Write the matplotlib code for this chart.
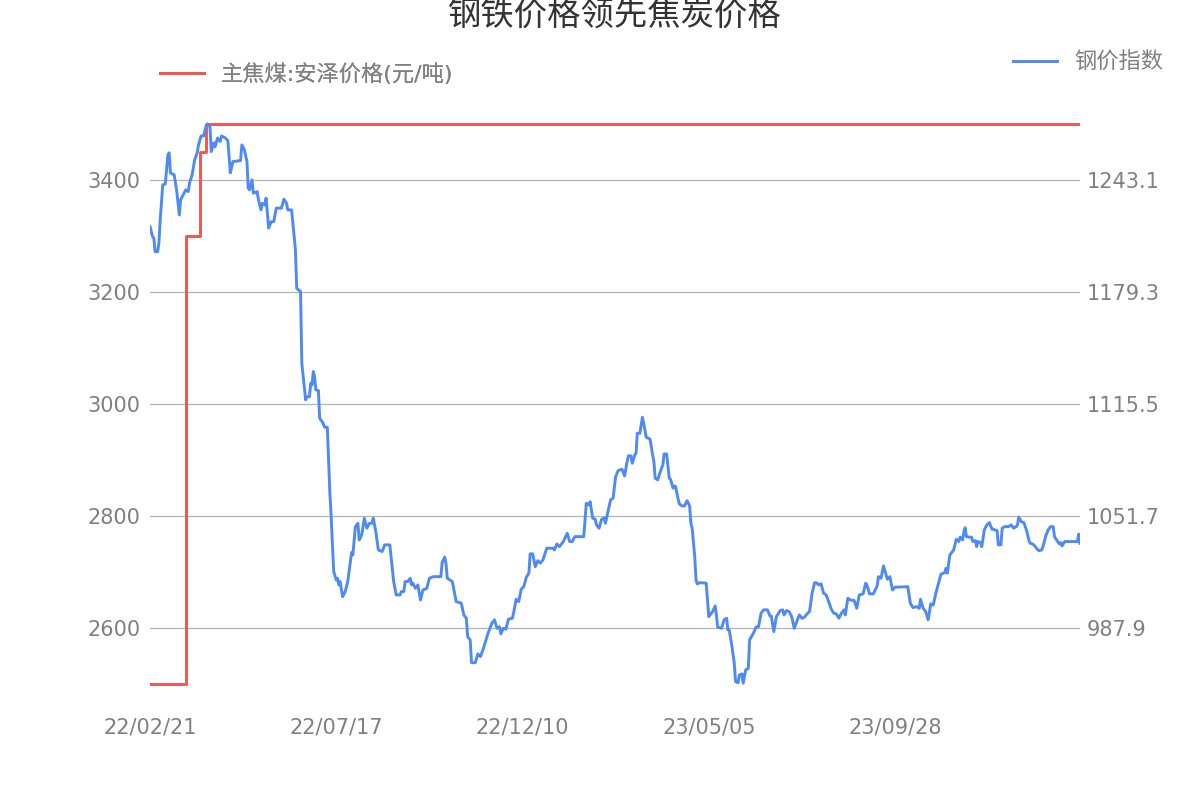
import matplotlib.pyplot as plt

plt.rcParams['font.family'] = ['DejaVu Sans', 'Noto Sans CJK SC']

# days since 2022-02-21
tick_days = [0, 146, 292, 438, 584]
tick_labels = ["22/02/21", "22/07/17", "22/12/10", "23/05/05", "23/09/28"]

# 主焦煤:安泽价格(元/吨), step changes
coke_day = [0, 28, 39, 44, 729]
coke_price = [2500, 3300, 3450, 3500, 3500]

# 钢价指数
steel_day = [
    0, 2, 3, 4, 6, 7, 8, 10, 12, 14, 15, 16, 19, 21, 23, 24, 26, 28, 30, 31,
    33, 35, 37, 38, 40, 42, 44, 45, 47, 48, 50, 51, 53, 55, 56, 59, 61, 62, 63, 65,
    71, 72, 74, 76, 77, 78, 80, 81, 84, 85, 87, 88, 90, 91, 93, 95, 97, 99, 103, 105,
    107, 108, 111, 113, 114, 115, 118, 119, 122, 123, 125, 126, 127, 128, 129, 130, 132, 133, 135, 137,
    139, 141, 142, 144, 146, 147, 148, 149, 151, 153, 155, 158, 159, 161, 163, 164, 166, 168, 170, 172,
    174, 175, 177, 179, 182, 184, 188, 191, 193, 196, 197, 199, 200, 202, 204, 205, 206, 208, 210, 212,
    214, 217, 219, 222, 228, 229, 231, 232, 233, 237, 239, 240, 244, 246, 248, 249, 251, 252, 255, 257,
    259, 261, 263, 265, 268, 270, 272, 274, 275, 277, 279, 281, 284, 285, 287, 289, 291, 293, 295, 297,
    298, 300, 302, 304, 306, 308, 311, 316, 317, 319, 321, 324, 327, 329, 331, 333, 340, 342, 344, 345,
    347, 349, 350, 352, 354, 356, 357, 359, 361, 363, 365, 367, 370, 372, 374, 375, 377, 378, 380, 381,
    382, 384, 385, 386, 387, 389, 392, 394, 395, 396, 398, 400, 402, 403, 405, 406, 407, 408, 410, 411,
    412, 414, 415, 417, 419, 421, 423, 424, 425, 427, 428, 429, 431, 436, 437, 438, 441, 443, 444, 445,
    448, 450, 452, 453, 454, 456, 458, 459, 461, 462, 464, 465, 467, 469, 470, 473, 475, 476, 477, 479,
    481, 484, 486, 487, 489, 491, 494, 496, 497, 499, 501, 503, 505, 507, 509, 511, 513, 515, 517, 519,
    521, 523, 524, 526, 528, 530, 532, 534, 536, 538, 540, 542, 544, 545, 547, 549, 552, 554, 556, 559,
    561, 562, 564, 567, 570, 571, 573, 575, 577, 578, 580, 582, 584, 594, 596, 598, 601, 603, 604, 606,
    608, 610, 612, 614, 616, 618, 620, 623, 624, 625, 627, 629, 630, 632, 634, 635, 637, 638, 639, 640,
    642, 644, 645, 647, 648, 649, 651, 652, 654, 656, 658, 660, 661, 664, 665, 667, 668, 670, 673, 675,
    677, 679, 680, 681, 683, 685, 687, 689, 690, 692, 694, 696, 697, 699, 700, 702, 704, 706, 708, 709,
    711, 713, 714, 715, 717, 727, 728, 729,
]
steel_index = [
    1216.5, 1210.8, 1210.0, 1202.2, 1202.2, 1207.2, 1220.3, 1240.2, 1240.8, 1257.3,
    1258.5, 1247.1, 1245.9, 1236.4, 1223.1, 1231.7, 1234.5, 1237.4, 1236.4, 1241.4,
    1245.9, 1254.5, 1258.5, 1263.0, 1268.1, 1268.1, 1273.8, 1275.0, 1273.4, 1259.2,
    1264.2, 1262.0, 1267.0, 1264.9, 1268.1, 1267.0, 1265.5, 1256.4, 1247.1, 1253.5,
    1254.1, 1263.0, 1260.2, 1253.5, 1238.4, 1237.4, 1243.1, 1235.5, 1236.4, 1231.7,
    1226.0, 1229.8, 1228.8, 1232.7, 1215.6, 1219.3, 1219.3, 1227.0, 1227.0, 1232.1,
    1229.8, 1226.0, 1226.0, 1210.8, 1203.2, 1181.4, 1179.5, 1138.7, 1117.8, 1119.6,
    1119.6, 1127.3, 1126.3, 1133.9, 1131.0, 1123.5, 1123.1, 1107.3, 1105.4, 1102.2,
    1102.2, 1064.6, 1051.3, 1020.0, 1015.2, 1016.2, 1012.4, 1014.3, 1005.7, 1008.6,
    1014.3, 1030.8, 1029.5, 1045.6, 1047.5, 1038.0, 1040.9, 1050.4, 1044.7, 1047.5,
    1047.5, 1050.4, 1042.8, 1032.3, 1031.4, 1035.2, 1035.2, 1014.3, 1006.7, 1006.7,
    1008.6, 1008.6, 1014.3, 1014.3, 1016.2, 1012.4, 1013.4, 1010.5, 1012.4, 1003.8,
    1009.5, 1010.5, 1016.2, 1017.1, 1017.1, 1025.1, 1028.2, 1024.8, 1016.2, 1014.3,
    1006.7, 1002.9, 1002.0, 995.3, 993.4, 982.9, 981.1, 968.1, 968.1, 973.1,
    971.6, 975.4, 980.1, 984.9, 990.6, 992.5, 987.7, 988.6, 984.5, 987.7,
    987.2, 992.9, 993.4, 996.3, 1004.2, 1002.9, 1009.9, 1011.4, 1016.8, 1019.1,
    1030.1, 1030.1, 1022.8, 1026.2, 1024.8, 1026.6, 1033.3, 1033.3, 1032.3, 1035.7,
    1034.2, 1037.1, 1041.8, 1037.1, 1037.1, 1039.9, 1039.9, 1058.9, 1058.0, 1059.8,
    1050.4, 1049.8, 1046.6, 1044.7, 1049.8, 1050.4, 1047.5, 1054.1, 1060.8, 1061.8,
    1074.1, 1077.5, 1078.3, 1074.5, 1082.6, 1085.9, 1085.9, 1081.7, 1086.4, 1087.4,
    1098.8, 1098.8, 1103.5, 1107.9, 1104.5, 1096.5, 1095.4, 1086.4, 1082.6, 1073.2,
    1072.2, 1076.9, 1080.7, 1087.0, 1087.0, 1079.8, 1073.2, 1072.6, 1067.5, 1068.8,
    1068.4, 1061.2, 1058.5, 1057.4, 1057.4, 1060.4, 1057.4, 1047.5, 1044.7, 1028.5,
    1015.2, 1013.0, 1013.7, 1013.4, 1003.8, 994.3, 997.2, 1000.4, 995.3, 988.3,
    987.7, 992.5, 993.4, 986.8, 986.8, 978.2, 967.8, 957.3, 956.7, 961.1,
    961.7, 956.4, 964.0, 964.9, 981.1, 984.9, 988.3, 988.6, 988.6, 996.3,
    998.2, 998.2, 994.7, 994.7, 985.8, 994.3, 997.8, 998.2, 995.3, 997.8,
    997.2, 994.3, 987.7, 991.5, 995.3, 993.4, 994.0, 995.9, 997.2, 1007.7,
    1013.7, 1013.4, 1012.4, 1013.0, 1007.7, 1006.7, 1002.9, 998.6, 996.3, 995.9,
    993.4, 996.3, 998.2, 995.3, 1004.8, 1003.8, 1003.5, 999.1, 1006.7, 1007.3,
    1013.4, 1012.4, 1007.3, 1007.3, 1011.8, 1017.1, 1016.2, 1023.2, 1018.1, 1015.6,
    1017.1, 1009.5, 1011.1, 1011.4, 1002.0, 999.5, 1000.0, 999.1, 1004.2, 999.1,
    997.2, 992.5, 1001.6, 1001.0, 1007.7, 1013.0, 1018.5, 1019.4, 1021.9, 1019.1,
    1029.5, 1031.4, 1032.3, 1038.4, 1037.1, 1039.6, 1038.0, 1042.8, 1045.0, 1039.9,
    1039.6, 1039.6, 1037.1, 1037.6, 1034.2, 1037.1, 1036.5, 1034.2, 1043.7, 1046.6,
    1047.9, 1044.1, 1044.1, 1043.3, 1035.2, 1035.2, 1044.7, 1045.6, 1045.6, 1046.6,
    1044.7, 1045.6, 1046.6, 1051.0, 1048.4, 1047.9, 1043.7, 1037.6, 1036.1, 1035.7,
    1034.2, 1032.3, 1031.9, 1032.3, 1034.2, 1039.9, 1043.7, 1045.6, 1045.6, 1039.9,
    1037.6, 1035.7, 1036.5, 1034.6, 1037.1, 1037.1, 1041.4, 1036.1,
]

left_ticks = [2600, 2800, 3000, 3200, 3400]
right_ticks = [987.9, 1051.7, 1115.5, 1179.3, 1243.1]

RED = '#F5554D'
BLUE = '#4E8AF5'
GRAY = '#808080'

fig = plt.figure(figsize=(12, 8), dpi=100)
ax = fig.add_axes([0.125, 0.11875, 0.775, 0.74375])
ax2 = ax.twinx()

l1, = ax.plot(coke_day, coke_price, color=RED, lw=2.1, drawstyle='steps-post', zorder=3)
l2, = ax2.plot(steel_day, steel_index, color=BLUE, lw=2.1, zorder=3)

ax.set_xlim(0, 729)
ax.set_ylim(2462.5, 3525)
ax2.set_ylim(944.0, 1282.9)

ax.set_yticks(left_ticks)
ax.set_yticklabels([str(v) for v in left_ticks])
ax2.set_yticks(right_ticks)
ax2.set_yticklabels([f"{v:.1f}" for v in right_ticks])
ax.set_xticks(tick_days)
ax.set_xticklabels(tick_labels)

ax.grid(True, axis='y', color='#b4b4b4', lw=0.9)
ax.set_axisbelow(True)
for a in (ax, ax2):
    for s in a.spines.values():
        s.set_visible(False)
ax.tick_params(axis='both', length=0, labelsize=15, labelcolor=GRAY)
ax.tick_params(axis='y', pad=7)
ax.tick_params(axis='x', pad=9)
ax2.tick_params(axis='y', length=0, labelsize=15, labelcolor=GRAY, pad=5)

fig.text(0.5125, 0.981, "钢铁价格领先焦炭价格", ha='center', va='center',
         fontsize=24, color='#333333', family=['Noto Sans CJK SC', 'DejaVu Sans'])

leg1 = fig.legend([l1], ["主焦煤:安泽价格(元/吨)"], loc='center left',
                  bbox_to_anchor=(0.133, 0.9075), frameon=False, fontsize=16,
                  handlelength=2.0, handletextpad=0.75, borderpad=0, borderaxespad=0,
                  labelcolor=GRAY)
leg2 = fig.legend([l2], ["钢价指数"], loc='center left',
                  bbox_to_anchor=(0.844, 0.9225), frameon=False, fontsize=16,
                  handlelength=2.0, handletextpad=0.75, borderpad=0, borderaxespad=0,
                  labelcolor=GRAY)
fig.add_artist(leg1)

fig.savefig('out.png', dpi=100)
